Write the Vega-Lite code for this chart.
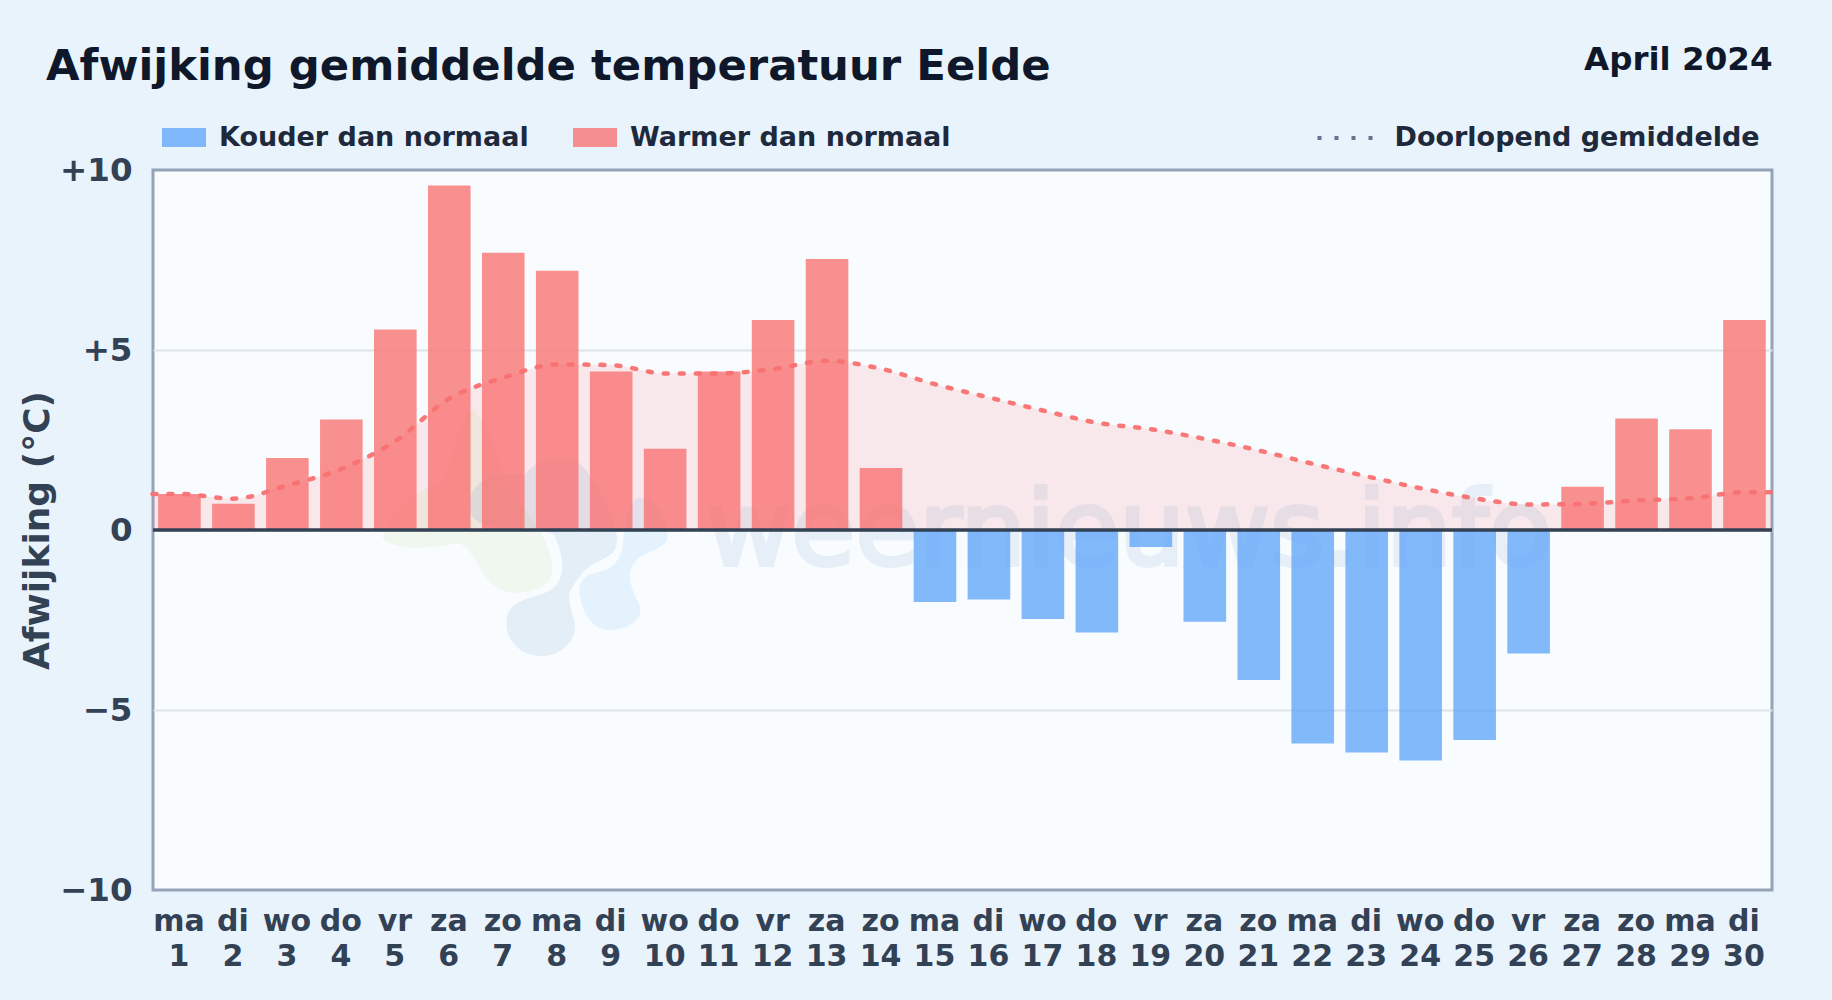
{
"$schema":"https://vega.github.io/schema/vega-lite/v6.json",
"width":1619,"height":720,
"autosize":"none",
"padding":{"left":153,"top":170,"right":60,"bottom":110},
"background":"#e8f3fc",
"title":{"text":"Afwijking gemiddelde temperatuur Eelde","anchor":"start","frame":"group","dx":-107,"offset":-79.7,"baseline":"alphabetic","font":"DejaVu Sans","fontSize":43.35,"fontWeight":"bold","color":"#0f172a"},
"config":{"font":"DejaVu Sans","view":{"fill":"#f8fcff","stroke":"#94a3b8","strokeWidth":3}},
"datasets":{
"dagen":[
{"dag":1,"wd":"ma","afw":1.0,"soort":"Warmer dan normaal"},
{"dag":2,"wd":"di","afw":0.73,"soort":"Warmer dan normaal"},
{"dag":3,"wd":"wo","afw":2.0,"soort":"Warmer dan normaal"},
{"dag":4,"wd":"do","afw":3.07,"soort":"Warmer dan normaal"},
{"dag":5,"wd":"vr","afw":5.57,"soort":"Warmer dan normaal"},
{"dag":6,"wd":"za","afw":9.57,"soort":"Warmer dan normaal"},
{"dag":7,"wd":"zo","afw":7.7,"soort":"Warmer dan normaal"},
{"dag":8,"wd":"ma","afw":7.2,"soort":"Warmer dan normaal"},
{"dag":9,"wd":"di","afw":4.4,"soort":"Warmer dan normaal"},
{"dag":10,"wd":"wo","afw":2.26,"soort":"Warmer dan normaal"},
{"dag":11,"wd":"do","afw":4.4,"soort":"Warmer dan normaal"},
{"dag":12,"wd":"vr","afw":5.83,"soort":"Warmer dan normaal"},
{"dag":13,"wd":"za","afw":7.53,"soort":"Warmer dan normaal"},
{"dag":14,"wd":"zo","afw":1.72,"soort":"Warmer dan normaal"},
{"dag":15,"wd":"ma","afw":-2.0,"soort":"Kouder dan normaal"},
{"dag":16,"wd":"di","afw":-1.93,"soort":"Kouder dan normaal"},
{"dag":17,"wd":"wo","afw":-2.47,"soort":"Kouder dan normaal"},
{"dag":18,"wd":"do","afw":-2.85,"soort":"Kouder dan normaal"},
{"dag":19,"wd":"vr","afw":-0.47,"soort":"Kouder dan normaal"},
{"dag":20,"wd":"za","afw":-2.55,"soort":"Kouder dan normaal"},
{"dag":21,"wd":"zo","afw":-4.17,"soort":"Kouder dan normaal"},
{"dag":22,"wd":"ma","afw":-5.93,"soort":"Kouder dan normaal"},
{"dag":23,"wd":"di","afw":-6.18,"soort":"Kouder dan normaal"},
{"dag":24,"wd":"wo","afw":-6.4,"soort":"Kouder dan normaal"},
{"dag":25,"wd":"do","afw":-5.83,"soort":"Kouder dan normaal"},
{"dag":26,"wd":"vr","afw":-3.43,"soort":"Kouder dan normaal"},
{"dag":27,"wd":"za","afw":1.2,"soort":"Warmer dan normaal"},
{"dag":28,"wd":"zo","afw":3.1,"soort":"Warmer dan normaal"},
{"dag":29,"wd":"ma","afw":2.8,"soort":"Warmer dan normaal"},
{"dag":30,"wd":"di","afw":5.83,"soort":"Warmer dan normaal"}
],
"gemiddelde":[
{"dag":0.5,"gem":1.0},
{"dag":1,"gem":1.0},
{"dag":2,"gem":0.87},
{"dag":3,"gem":1.24},
{"dag":4,"gem":1.7},
{"dag":5,"gem":2.47},
{"dag":6,"gem":3.65},
{"dag":7,"gem":4.23},
{"dag":8,"gem":4.6},
{"dag":9,"gem":4.58},
{"dag":10,"gem":4.35},
{"dag":11,"gem":4.35},
{"dag":12,"gem":4.47},
{"dag":13,"gem":4.7},
{"dag":14,"gem":4.48},
{"dag":15,"gem":4.05},
{"dag":16,"gem":3.68},
{"dag":17,"gem":3.32},
{"dag":18,"gem":2.98},
{"dag":19,"gem":2.8},
{"dag":20,"gem":2.53},
{"dag":21,"gem":2.21},
{"dag":22,"gem":1.84},
{"dag":23,"gem":1.49},
{"dag":24,"gem":1.16},
{"dag":25,"gem":0.88},
{"dag":26,"gem":0.71},
{"dag":27,"gem":0.73},
{"dag":28,"gem":0.82},
{"dag":29,"gem":0.88},
{"dag":30,"gem":1.05},
{"dag":30.5,"gem":1.05}
],
"logo":[{"dag":7.67,"afw":0}],
"watermerk":[{"dag":18.6,"afw":-0.97,"tekst":"weernieuws.info"}],
"nul":[{"afw":0}],
"leeg":[]
},
"resolve":{"axis":{"x":"independent"}},
"layer":[
{"data":{"name":"gemiddelde"},
 "mark":{"type":"area","interpolate":"monotone","color":"#f87171","opacity":0.14},
 "encoding":{
  "x":{"field":"dag","type":"quantitative","scale":{"domain":[0.51,30.51],"nice":false,"zero":false,"padding":0},
   "axis":{"orient":"bottom","title":null,"values":[1,2,3,4,5,6,7,8,9,10,11,12,13,14,15,16,17,18,19,20,21,22,23,24,25,26,27,28,29,30],
    "labelExpr":"[['ma','di','wo','do','vr','za','zo','ma','di','wo','do','vr','za','zo','ma','di','wo','do','vr','za','zo','ma','di','wo','do','vr','za','zo','ma','di'][datum.value-1], datum.value+'']",
    "labelFont":"DejaVu Sans","labelFontSize":30,"labelFontWeight":"bold","labelColor":"#334155","labelLineHeight":35,"labelPadding":16,"labelOffset":-1,"labelOverlap":false,"labelBound":false,"labelFlush":false,"labelBaseline":"top",
    "domain":false,"ticks":false,"grid":false}},
  "y":{"field":"gem","type":"quantitative","scale":{"domain":[-10,10],"nice":false,"zero":false,"padding":0},
   "axis":{"title":"Afwijking (°C)","titleFont":"DejaVu Sans","titleFontSize":36,"titleFontWeight":"bold","titleColor":"#334155","titlePadding":3,
    "values":[-10,-5,0,5,10],
    "labelExpr":"datum.value>0?'+'+datum.value:(datum.value<0?'−'+abs(datum.value):'0')",
    "labelFont":"DejaVu Sans","labelFontSize":32.5,"labelFontWeight":"bold","labelColor":"#334155","labelPadding":21,"labelOverlap":false,"labelBound":false,
    "domain":false,"ticks":false,"grid":true,"gridColor":{"condition":{"test":"abs(datum.value)==10","value":"transparent"},"value":"#dde3ea"},"gridWidth":2}},
  "y2":{"datum":0}
 }},
{"data":{"name":"logo"},
 "mark":{"type":"point","filled":true,"size":4,"color":"#a6d060","opacity":0.1,"strokeWidth":0,"shape":"M-157,7C-150,20 -110,20 -83,13C-70,15 -65,30 -55,45C-45,60 -30,65 -15,62C5,58 15,50 13,35C10,15 0,-5 -30,-40C-40,-60 -45,-100 -67,-120C-85,-110 -85,-70 -95,-50C-120,-40 -150,-20 -157,7Z"},
 "encoding":{"x":{"field":"dag","type":"quantitative","axis":null},"y":{"field":"afw","type":"quantitative"}}},
{"data":{"name":"logo"},
 "mark":{"type":"point","filled":true,"size":4,"color":"#2563a8","opacity":0.09,"strokeWidth":0,"shape":"M-33,93C-33,72 -15,70 5,63C25,55 28,35 15,5C-10,-10 -70,10 -70,-25C-70,-50 -40,-60 -15,-55C0,-75 30,-80 45,-62C70,-30 80,0 77,15C75,30 50,30 40,47C25,65 30,70 33,85C42,105 25,126 2,126C-18,126 -33,112 -33,93Z"},
 "encoding":{"x":{"field":"dag","type":"quantitative","axis":null},"y":{"field":"afw","type":"quantitative"}}},
{"data":{"name":"logo"},
 "mark":{"type":"point","filled":true,"size":4,"color":"#3ba0f0","opacity":0.1,"strokeWidth":0,"shape":"M40,62C42,85 55,100 70,100C90,100 105,88 100,75C90,55 85,40 100,27C115,20 130,15 128,5C128,-15 115,-32 100,-32C90,-32 85,-10 84,10C82,30 75,38 60,42C45,45 40,50 40,62Z"},
 "encoding":{"x":{"field":"dag","type":"quantitative","axis":null},"y":{"field":"afw","type":"quantitative"}}},
{"data":{"name":"watermerk"},
 "mark":{"type":"text","font":"DejaVu Sans","fontSize":104,"fontWeight":"normal","align":"center","baseline":"alphabetic","color":"#2563a8","stroke":"#2563a8","strokeWidth":4,"opacity":0.08},
 "encoding":{"x":{"field":"dag","type":"quantitative","axis":null},"y":{"field":"afw","type":"quantitative"},"text":{"field":"tekst"}}},
{"data":{"name":"dagen"},
 "mark":{"type":"bar","size":42.6,"orient":"vertical","opacity":0.78},
 "encoding":{
  "x":{"field":"dag","type":"quantitative","axis":null},
  "y":{"field":"afw","type":"quantitative"},
  "fill":{"field":"soort","type":"nominal","scale":{"domain":["Kouder dan normaal","Warmer dan normaal"],"range":["#60a5fa","#f87171"]},
   "legend":{"orient":"none","legendX":9,"legendY":-54.5,"direction":"horizontal","columns":2,"title":null,
    "symbolType":"M-1,-0.43H1V0.43H-1Z","symbolSize":1936,"symbolStrokeWidth":0,"symbolOpacity":0.78,
    "labelFont":"DejaVu Sans","labelFontSize":27,"labelFontWeight":"bold","labelColor":"#1e293b","labelOffset":13,"labelLimit":500,"columnPadding":44,"rowPadding":0}}
 }},
{"data":{"name":"gemiddelde"},
 "mark":{"type":"line","interpolate":"monotone","color":"#f87171","strokeWidth":4.5,"strokeDash":[4,12],"strokeCap":"round","opacity":0.95},
 "encoding":{
  "x":{"field":"dag","type":"quantitative","axis":null},
  "y":{"field":"gem","type":"quantitative"}
 }},
{"data":{"name":"leeg"},
 "mark":{"type":"line","strokeWidth":4},
 "encoding":{
  "x":{"field":"dag","type":"quantitative","axis":null},
  "y":{"field":"gem","type":"quantitative"},
  "stroke":{"field":"reeks","type":"nominal","scale":{"domain":["Doorlopend gemiddelde"],"range":["#64748b"]},
   "legend":{"orient":"none","legendX":1162.5,"legendY":-61.5,"title":null,"symbolType":"stroke","symbolSize":3025,"symbolStrokeWidth":4,"symbolDash":[4,13],
    "labelFont":"DejaVu Sans","labelFontSize":27,"labelFontWeight":"bold","labelColor":"#1e293b","labelOffset":20,"labelLimit":500}}
 }},
{"data":{"name":"nul"},
 "mark":{"type":"rule","color":"#334155","strokeWidth":3.5},
 "encoding":{"y":{"field":"afw","type":"quantitative"}}},
{"data":{"name":"nul"},
 "mark":{"type":"rule","opacity":0},
 "encoding":{"y":{"field":"afw","type":"quantitative"},
  "x":{"datum":1,"type":"quantitative","axis":{"orient":"top","title":"April 2024","titleAnchor":"end","titleAlign":"right","titleFont":"DejaVu Sans","titleFontSize":32.5,"titleFontWeight":"bold","titleColor":"#0f172a","titlePadding":93.5,"labels":false,"ticks":false,"domain":false,"grid":false}}}}
]
}
